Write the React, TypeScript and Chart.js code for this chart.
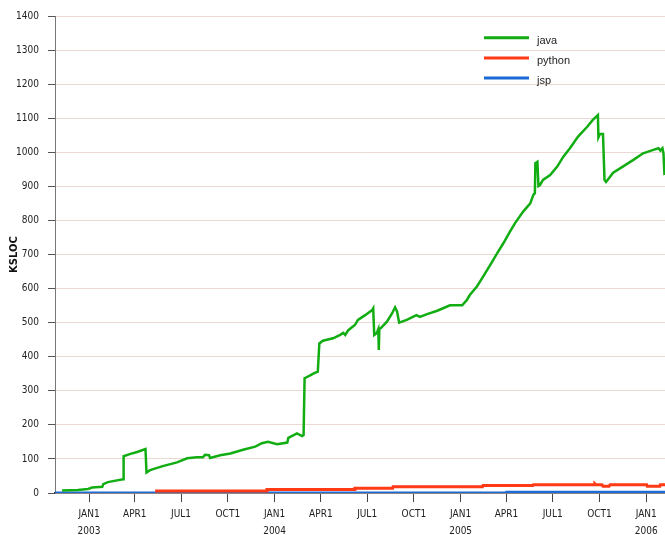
import { useEffect, useRef } from 'react';
import { Chart, registerables } from 'chart.js';

Chart.register(...registerables);

const javaDates = [
  '2002-11-09', '2002-12-10', '2002-12-30', '2003-01-07', '2003-01-27', '2003-01-29', '2003-02-07', '2003-02-25',
  '2003-03-09', '2003-03-10', '2003-03-22', '2003-04-07', '2003-04-22', '2003-04-24', '2003-05-01', '2003-05-26',
  '2003-06-23', '2003-07-13', '2003-08-01', '2003-08-13', '2003-08-17', '2003-08-25', '2003-08-27', '2003-09-16',
  '2003-10-06', '2003-10-31', '2003-11-24', '2003-12-07', '2003-12-19', '2004-01-06', '2004-01-26', '2004-01-28',
  '2004-02-14', '2004-02-24', '2004-02-27', '2004-02-29', '2004-03-11', '2004-03-18', '2004-03-26', '2004-03-29',
  '2004-04-05', '2004-04-25', '2004-05-09', '2004-05-15', '2004-05-19', '2004-05-25', '2004-06-07', '2004-06-13',
  '2004-06-27', '2004-07-11', '2004-07-13', '2004-07-15', '2004-07-20', '2004-07-23', '2004-07-24', '2004-07-25',
  '2004-07-28', '2004-08-09', '2004-08-19', '2004-08-25', '2004-08-29', '2004-09-02', '2004-09-17', '2004-09-29',
  '2004-10-06', '2004-10-13', '2004-10-27', '2004-11-16', '2004-12-11', '2005-01-04', '2005-01-13', '2005-01-19',
  '2005-02-02', '2005-02-12', '2005-02-28', '2005-03-14', '2005-03-26', '2005-04-08', '2005-04-18', '2005-05-04',
  '2005-05-18', '2005-05-24', '2005-05-27', '2005-05-28', '2005-06-01', '2005-06-03', '2005-06-06', '2005-06-12',
  '2005-06-26', '2005-07-10', '2005-07-22', '2005-08-04', '2005-08-20', '2005-09-07', '2005-09-18', '2005-09-28',
  '2005-09-29', '2005-10-02', '2005-10-08', '2005-10-11', '2005-10-14', '2005-10-28', '2005-11-16', '2005-12-06',
  '2005-12-26', '2006-01-15', '2006-01-25', '2006-01-29', '2006-02-02', '2006-02-04', '2006-02-06',
];
const javaValues = [
  7, 9, 12, 16, 18, 26, 32, 37,
  40, 108, 114, 121, 129, 60, 67, 79,
  90, 102, 105, 105, 112, 111, 103, 111,
  116, 127, 136, 146, 150, 143, 148, 162,
  175, 167, 170, 337, 345, 351, 356, 439,
  447, 454, 464, 470, 464, 478, 493, 508,
  522, 537, 542, 464, 470, 481, 420, 481,
  484, 503, 527, 545, 532, 500, 508, 517,
  522, 517, 525, 535, 551, 551, 566, 581,
  606, 630, 669, 704, 733, 767, 792, 826,
  850, 875, 880, 968, 972, 901, 904, 919,
  933, 958, 987, 1012, 1046, 1075, 1095, 1109,
  1044, 1054, 1054, 919, 913, 940, 958, 977,
  997, 1007, 1012, 1005, 1012, 997, 933,
];

const pythonDates = [
  '2003-05-11', '2003-12-16', '2003-12-17', '2004-06-06', '2004-06-07', '2004-08-20', '2004-08-21', '2005-02-13',
  '2005-02-14', '2005-05-23', '2005-05-24', '2005-09-21', '2005-09-22', '2005-09-24', '2005-10-06', '2005-10-08',
  '2005-10-20', '2005-10-22', '2006-01-02', '2006-01-03', '2006-01-28', '2006-01-29', '2006-02-07',
];
const pythonValues = [
  6, 6, 10, 10, 14, 14, 18, 18,
  22, 22, 24, 24, 27, 24, 24, 20,
  20, 24, 24, 20, 20, 24, 24,
];

const jspDates = ['2002-10-26', '2005-04-01', '2005-04-02', '2006-02-07'];
const jspValues = [0, 0, 2.5, 2.5];

const seriesLabels = ['java', 'python', 'jsp'];
const seriesColors = ['#12ad12', '#ff3a14', '#1a6bd6'];

const axisStart = '2002-10-26';
const axisEnd = '2006-02-07';
const tickDates = [
  '2003-01-01', '2003-04-01', '2003-07-01', '2003-10-01',
  '2004-01-01', '2004-04-01', '2004-07-01', '2004-10-01',
  '2005-01-01', '2005-04-01', '2005-07-01', '2005-10-01',
  '2006-01-01',
];
const monthNames = ['JAN', 'FEB', 'MAR', 'APR', 'MAY', 'JUN', 'JUL', 'AUG', 'SEP', 'OCT', 'NOV', 'DEC'];
const yMin = 0;
const yMax = 1400;
const yStep = 100;
const yTitle = 'KSLOC';

const ts = (d: string) => {
  const [y, m, dd] = d.split('-').map(Number);
  return Date.UTC(y, m - 1, dd);
};

const tickFont = "'Liberation Sans Narrow', 'DejaVu Sans Condensed', sans-serif";

const legendPlugin = {
  id: 'insideLegend',
  afterDatasetsDraw(chart: any) {
    const ctx = chart.ctx;
    const { right, top } = chart.chartArea;
    ctx.save();
    chart.data.datasets.forEach((ds: any, i: number) => {
      const y = top + 21.7 + i * 20.2;
      ctx.strokeStyle = ds.borderColor;
      ctx.lineWidth = 3;
      ctx.lineCap = 'butt';
      ctx.beginPath();
      ctx.moveTo(right - 181, y);
      ctx.lineTo(right - 136, y);
      ctx.stroke();
      ctx.fillStyle = '#222';
      ctx.font = "11px 'Liberation Sans', sans-serif";
      ctx.textBaseline = 'alphabetic';
      ctx.textAlign = 'left';
      ctx.fillText(ds.label, right - 128, y + 6.3);
    });
    ctx.restore();
  },
};

export default function App() {
  const ref = useRef<HTMLCanvasElement | null>(null);

  useEffect(() => {
    document.body.style.margin = '0';
    const canvas = ref.current;
    if (!canvas) return;
    const mk = (dates: string[], vals: number[]) => dates.map((d, i) => ({ x: ts(d), y: vals[i] }));
    const allData = [mk(javaDates, javaValues), mk(pythonDates, pythonValues), mk(jspDates, jspValues)];
    const widths = [2.5, 3, 3];

    const chart = new Chart(canvas, {
      type: 'line',
      data: {
        datasets: allData.map((data, i) => ({
          label: seriesLabels[i],
          data,
          borderColor: seriesColors[i],
          backgroundColor: seriesColors[i],
          borderWidth: widths[i],
          pointRadius: 0,
          tension: 0,
          fill: false,
        })),
      },
      options: {
        animation: false,
        responsive: false,
        devicePixelRatio: 1,
        layout: { padding: { top: 16, left: 0, right: 0, bottom: 0 } },
        plugins: { legend: { display: false }, tooltip: { enabled: false } },
        scales: {
          x: {
            type: 'linear',
            min: ts(axisStart),
            max: ts(axisEnd),
            afterBuildTicks: (s: any) => {
              s.ticks = tickDates.map((d) => ({ value: ts(d) }));
            },
            afterFit: (s: any) => {
              s.height = 42;
            },
            grid: { drawOnChartArea: false, drawTicks: true, tickLength: 9, tickColor: '#444', lineWidth: 1 },
            border: { color: '#333', width: 1.5 },
            ticks: {
              autoSkip: false,
              maxRotation: 0,
              minRotation: 0,
              padding: 4,
              color: '#222',
              font: { family: tickFont, size: 10, lineHeight: 1.7 },
              callback: (value: any) => {
                const d = new Date(Number(value));
                const m = d.getUTCMonth();
                const label = monthNames[m] + d.getUTCDate();
                return m === 0 ? [label, String(d.getUTCFullYear())] : label;
              },
            },
          },
          y: {
            min: yMin,
            max: yMax,
            afterFit: (s: any) => {
              s.width = 55;
            },
            grid: { color: '#ead9d2', tickColor: '#555', tickLength: 7, lineWidth: 1 },
            border: { color: '#777', width: 1 },
            ticks: {
              stepSize: yStep,
              padding: 9,
              color: '#222',
              font: { family: tickFont, size: 10 },
              callback: (v: any) => String(v),
            },
            title: {
              display: true,
              text: yTitle,
              color: '#111',
              font: { family: "'DejaVu Sans', sans-serif", size: 10, weight: 'bold' },
              padding: { top: 8.5, bottom: 0 },
            },
          },
        },
      },
      plugins: [legendPlugin],
    } as any);

    return () => chart.destroy();
  }, []);

  return (
    <div style={{ width: 665, height: 535 }}>
      <canvas ref={ref} width={665} height={535} style={{ display: 'block' }} />
    </div>
  );
}
